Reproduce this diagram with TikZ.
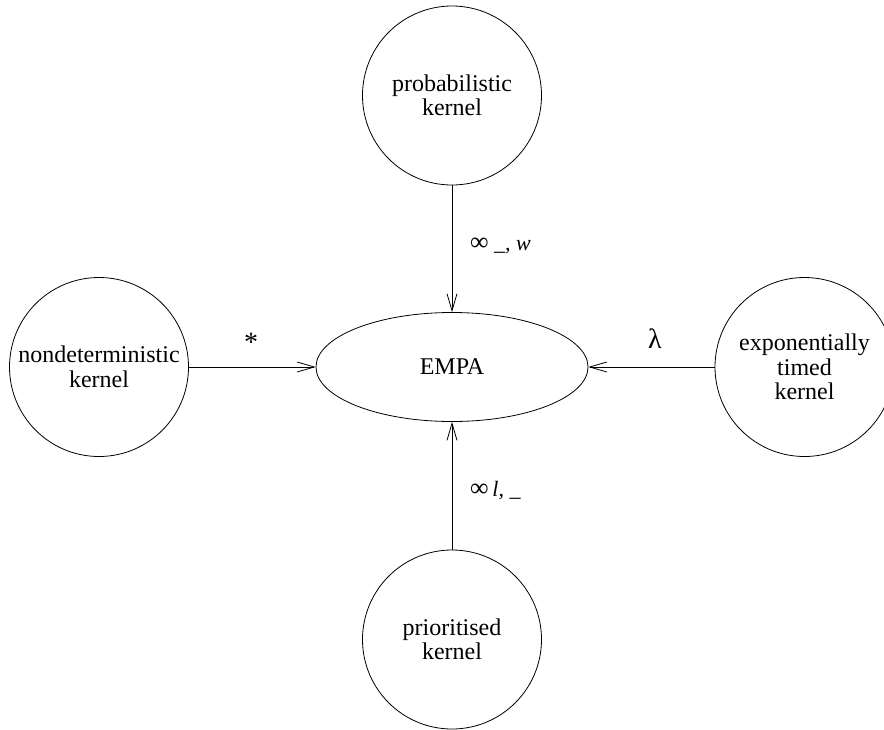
\documentclass[tikz,border=0pt]{standalone}
\usepackage{fontspec}
\setmainfont{Liberation Serif}
\usetikzlibrary{shapes.geometric, arrows.meta, positioning}

\begin{document}
\begin{tikzpicture}[x=1pt, y=-1pt,
    kernel/.style={draw, circle, line width=0.8pt, minimum size=179pt, inner sep=0pt, align=center, font=\fontsize{24}{24.5}\selectfont},
    calculus/.style={draw, ellipse, line width=0.8pt, minimum width=272pt, minimum height=109pt, font=\fontsize{24}{24.5}\selectfont},
    lbl/.style={inner sep=0pt, font=\fontsize{22}{24}\selectfont},
    sym/.style={inner sep=0pt, font=\fontsize{28}{30}\selectfont},
    arrow/.style={-{Straight Barb[length=17pt, width=10pt]}, line width=0.8pt}
]
    \useasboundingbox (0,0) rectangle (884,729);

    % Calculus
    \node[calculus] (empa) at (452, 367) {EMPA};

    % Kernels
    \node[kernel] (prob) at (452, 95.5) {probabilistic\\kernel};
    \node[kernel] (nondet) at (99, 367) {nondeterministic\\kernel};
    \node[kernel] (expo) at (804.5, 367) {exponentially\\timed\\kernel};
    \node[kernel] (prio) at (452, 639.5) {prioritised\\kernel};

    \draw[arrow] (prob) -- (empa);
    \draw[arrow] (nondet) -- (empa);
    \draw[arrow] (expo) -- (empa);
    \draw[arrow] (prio) -- (empa);

    % Labels
    \node[lbl, anchor=base west] (probl) at (470, 250) {{\fontsize{26}{26}\selectfont ∞} \textit{\_, w}};
    \node[sym, anchor=base] (nondetl) at (251, 351) {*};
    \node[sym, anchor=base] (expol) at (655, 348) {λ};
    \node[lbl, anchor=base west] (priol) at (470, 496) {{\fontsize{26}{26}\selectfont ∞}\,\textit{l, \_}};
\end{tikzpicture}
\end{document}
